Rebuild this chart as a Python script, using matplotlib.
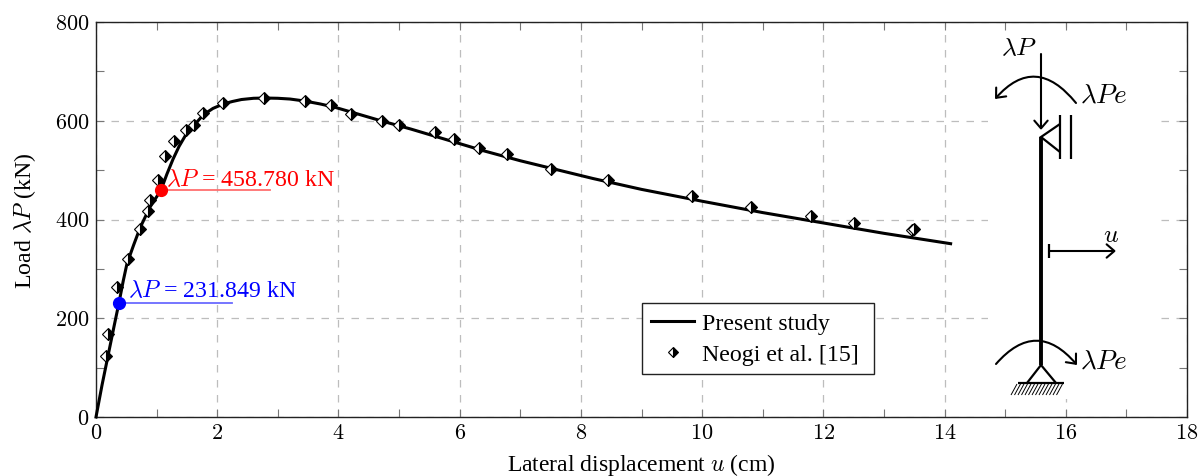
import matplotlib
matplotlib.use("Agg")
import matplotlib.pyplot as plt
from matplotlib.lines import Line2D
from matplotlib.patches import FancyArrowPatch, Rectangle
from matplotlib.path import Path

plt.rcParams['font.family'] = ['Liberation Serif', 'DejaVu Serif']
plt.rcParams['mathtext.fontset'] = 'cm'

curve_x = [0, 0.1, 0.2, 0.3, 0.38, 0.45, 0.51, 0.62, 0.73, 0.89, 1.07, 1.17, 1.27, 1.37, 1.47, 1.62, 1.77, 1.93, 2.1, 2.25, 2.4, 2.6, 2.79, 3.0, 3.2, 3.44, 3.7, 3.95, 4.2, 4.7, 5.2, 5.8, 6.4, 7.0, 7.6, 8.2, 9.0, 10.0, 11.0, 12.0, 13.0, 14.1]
curve_y = [0, 65, 125, 185, 232, 276, 310, 348, 384, 425, 459, 492, 522, 548, 569, 591, 612, 625, 634, 639, 643, 645.5, 646, 645.5, 644, 640, 634, 627, 618, 600, 583, 561, 539, 519, 501, 483, 461, 437, 414, 393, 372, 351]
ref_x = [0.17, 0.2, 0.35, 0.52, 0.73, 0.86, 0.89, 1.02, 1.14, 1.29, 1.49, 1.62, 1.77, 2.1, 2.78, 3.44, 3.88, 4.2, 4.72, 5.0, 5.6, 5.91, 6.32, 6.78, 7.51, 8.45, 9.84, 10.81, 11.8, 12.5, 13.47, 13.5]
ref_y = [124, 168, 263, 321, 380, 417, 440, 480, 528, 559, 581, 591, 616, 636, 646, 640, 632, 614, 600, 592, 577, 563, 545, 532, 503, 480, 447, 426, 408, 392, 379, 380]
x_major = [0, 2, 4, 6, 8, 10, 12, 14, 16, 18]
y_major = [0, 200, 400, 600, 800]
red_pt = (1.07, 458.78)
blue_pt = (0.38, 231.849)
red_end = 2.87
blue_end = 2.24

fig = plt.figure(figsize=(12, 4.77), dpi=100)
ax = fig.add_axes([96/1200, 1-418/477, (1187-96)/1200, (418-23)/477])
ax.set_xlim(0, 18)
ax.set_ylim(0, 800)
ax.set_xticks(x_major)
ax.set_xticklabels([f'${v}$' for v in x_major])
ax.set_yticks(y_major)
ax.set_yticklabels([f'${v}$' for v in y_major])
ax.set_xticks(range(1, 18, 2), minor=True)
ax.set_yticks(range(100, 800, 200), minor=True)
ax.tick_params(which='both', direction='in', top=True, right=True, length=5.5, width=0.8, color='#777777', labelsize=16, pad=5)
ax.grid(True, which='major', color='#bdbdbd', lw=0.9, dashes=(6, 6))
ax.set_axisbelow(True)
for s in ax.spines.values():
    s.set_linewidth(1.0)
    s.set_color('#222222')
ax.set_xlabel(r'Lateral displacement $u$ (cm)', fontsize=17, labelpad=6)
ax.set_ylabel(r'Load $\lambda P$ (kN)', fontsize=17.2, labelpad=12)

line, = ax.plot(curve_x, curve_y, color='k', lw=2.2, zorder=3, clip_on=False)
ax.plot(ref_x, ref_y, ls='none', marker='D', markersize=6.3, fillstyle='right', markerfacecolor='k',
        markerfacecoloralt='white', markeredgecolor='k', markeredgewidth=0.8, zorder=4)
ax.plot([red_pt[0], red_end], [red_pt[1]]*2, color='#ff7070', lw=1.3, zorder=3)
ax.plot([blue_pt[0], blue_end], [blue_pt[1]]*2, color='#6a6aff', lw=1.3, zorder=3)
ax.plot(*red_pt, 'o', color='red', ms=8.5, zorder=5)
ax.plot(*blue_pt, 'o', color='blue', ms=8.5, zorder=5)
ax.text(1.155, 470, r'$\lambda P$ = 458.780 kN', color='red', fontsize=17.2, va='baseline', ha='left', zorder=6)
ax.text(0.53, 245, r'$\lambda P$ = 231.849 kN', color='blue', fontsize=17.2, va='baseline', ha='left', zorder=6)

line_handle = Line2D([], [], color='k', lw=2.2)
mark_handle = Line2D([], [], ls='none', marker='D', markersize=5.6, fillstyle='right', markerfacecolor='k',
                     markerfacecoloralt='white', markeredgecolor='k', markeredgewidth=0.8)
leg = ax.legend([line_handle, mark_handle], ['Present study', 'Neogi et al. [15]'], loc='lower left',
                bbox_to_anchor=((642-96)/(1187-96), (418-375)/395, (874-642)/(1187-96), (375-304)/395),
                mode='expand', fontsize=17.2, frameon=True, fancybox=False, framealpha=1, edgecolor='#222222',
                borderaxespad=0, borderpad=0.38, handlelength=1.8, handletextpad=0.35, labelspacing=0.38)
leg.get_frame().set_linewidth(1.0)
leg.set_zorder(7)

# schematic overlay, in pixel coordinates
ov = fig.add_axes([0, 0, 1, 1], facecolor='none')
ov.set_xlim(0, 1200)
ov.set_ylim(477, 0)
ov.axis('off')
ov.add_patch(Rectangle((988, 32), 172, 368, fc='white', ec='none', zorder=1))

def seg(xs, ys, lw=1.6):
    ov.plot(xs, ys, color='k', lw=lw, solid_capstyle='butt', solid_joinstyle='miter', zorder=3)

def arrow(path_pts, codes=None):
    p = Path(path_pts, codes)
    ov.add_patch(FancyArrowPatch(path=p, arrowstyle='->,head_length=3.5,head_width=3', lw=1.5, color='k',
                                 shrinkA=0, shrinkB=0, zorder=3, mutation_scale=1.6))

def arc(a, peak_y, b):
    cx = (a[0] + b[0]) / 2
    cy = 2 * peak_y - (a[1] + b[1]) / 2
    arrow([a, (cx, cy), b], [Path.MOVETO, Path.CURVE3, Path.CURVE3])

arrow([(1041, 55), (1041, 131)])
arc((1076, 104), 78, (995, 100))
arc((996, 365), 342, (1077, 366))
seg([1041, 1041], [138, 366], lw=2.8)
seg([1060, 1041, 1060], [125, 138, 153])
seg([1060, 1060], [116, 160])
seg([1071, 1071], [116, 160])
seg([1049, 1049], [245, 259])
arrow([(1049, 252), (1116, 252)])
seg([1027, 1041, 1056], [384, 366, 384])
seg([1018, 1064], [384, 384])
for i in range(14):
    seg([1011 + 3.5 * i, 1017 + 3.5 * i], [396, 385], lw=0.7)
ov.text(1019, 49, r'$\lambda P$', fontsize=18.5, ha='center', va='center', zorder=4)
ov.text(1080, 96, r'$\lambda Pe$', fontsize=19.5, ha='left', va='center', zorder=4)
ov.text(1080, 362, r'$\lambda Pe$', fontsize=19.5, ha='left', va='center', zorder=4)
ov.text(1111, 236, r'$u$', fontsize=18.5, ha='center', va='center', zorder=4)

fig.savefig('out.png', dpi=100)
